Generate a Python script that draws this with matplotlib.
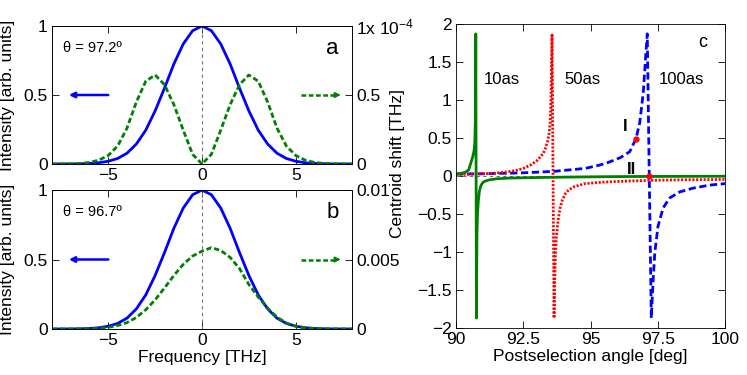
import numpy as np
import matplotlib
matplotlib.use("Agg")
import matplotlib.pyplot as plt

plt.rcParams['font.family'] = ['Liberation Sans', 'DejaVu Sans']
plt.rcParams['mathtext.fontset'] = 'custom'
plt.rcParams['mathtext.rm'] = 'Liberation Sans'
plt.rcParams['mathtext.it'] = 'Liberation Sans:italic'

# ---- panels a, b: spectra ----
freq = [-8, -7.5, -7, -6.5, -6, -5.5, -5, -4.5, -4, -3.5, -3, -2.5, -2, -1.5, -1, -0.5,
        0, 0.5, 1, 1.5, 2, 2.5, 3, 3.5, 4, 4.5, 5, 5.5, 6, 6.5, 7, 7.5, 8]

# blue: input intensity (left axis), same in a and b
intensity = [0.0, 0.0002, 0.0005, 0.0015, 0.004, 0.009, 0.02, 0.04, 0.078, 0.145, 0.245, 0.385,
             0.55, 0.725, 0.87, 0.966, 1.0, 0.966, 0.87, 0.725, 0.55, 0.385, 0.245, 0.145,
             0.078, 0.04, 0.02, 0.009, 0.004, 0.0015, 0.0005, 0.0002, 0.0]

# green: postselected intensity, panel a in units of 1e-4
post_a = [0, 0.0005, 0.0015, 0.004, 0.011, 0.028, 0.062, 0.13, 0.26, 0.45, 0.6, 0.645,
          0.575, 0.43, 0.245, 0.07, 0.0, 0.07, 0.245, 0.43, 0.575, 0.645, 0.6, 0.45,
          0.26, 0.13, 0.062, 0.028, 0.011, 0.004, 0.0015, 0.0005, 0]

# green: panel b in units of 1e-2
post_b = [0.0, 0.0001, 0.0003, 0.0008, 0.002, 0.005, 0.012, 0.025, 0.046, 0.083, 0.138, 0.21,
          0.295, 0.385, 0.465, 0.525, 0.56, 0.585, 0.565, 0.515, 0.435, 0.32, 0.23, 0.15,
          0.085, 0.043, 0.02, 0.009, 0.004, 0.0015, 0.0005, 0.0002, 0.0]

theta_a = u"\u03b8 = 97.2\u00ba"
theta_b = u"\u03b8 = 96.7\u00ba"

# ---- panel c: centroid shift vs postselection angle ----
ang_10 = [90.0, 90.2, 90.35, 90.47, 90.55, 90.62, 90.67, 90.7, 90.72, 90.73, 90.735,
          90.76, 90.77, 90.78, 90.8, 90.83, 90.87, 90.92, 91.0, 91.1, 91.25, 91.5, 92.0,
          93.0, 94.0, 95.0, 96.0, 97.0, 98.0, 99.0, 100.0]
shift_10 = [0.025, 0.035, 0.05, 0.08, 0.17, 0.25, 0.33, 0.45, 0.75, 1.3, 1.87,
            -1.87, -1.2, -0.75, -0.5, -0.33, -0.2, -0.13, -0.085, -0.065, -0.05, -0.037, -0.027,
            -0.02, -0.015, -0.011, -0.008, -0.006, -0.005, -0.004, -0.003]

ang_50 = [90.0, 90.5, 91.0, 91.5, 91.8, 92.2, 92.5, 92.8, 93.0, 93.13, 93.25, 93.32, 93.4,
          93.46, 93.5, 93.53, 93.55, 93.57, 93.645, 93.66, 93.69, 93.73, 93.8, 93.87, 93.95,
          94.07, 94.2, 94.4, 94.8, 95.5, 96.5, 97.5, 98.5, 100.0]
shift_50 = [0.02, 0.022, 0.028, 0.038, 0.05, 0.07, 0.1, 0.15, 0.2, 0.25, 0.3, 0.36, 0.45,
            0.56, 0.7, 1.0, 1.4, 1.87, -1.87, -1.5, -1.1, -0.8, -0.57, -0.42, -0.32,
            -0.23, -0.18, -0.14, -0.1, -0.08, -0.065, -0.055, -0.05, -0.045]

ang_100 = [90.0, 91.0, 92.0, 92.5, 93.0, 93.6, 94.2, 94.8, 95.3, 95.6, 96.1, 96.46, 96.69,
           96.83, 96.96, 97.06, 97.11, 97.26, 97.33, 97.39, 97.51, 97.7, 97.94, 98.31, 98.81,
           99.43, 100.0]
shift_100 = [0.026, 0.03, 0.037, 0.042, 0.05, 0.06, 0.08, 0.1, 0.14, 0.17, 0.24, 0.32, 0.49,
             0.7, 1.09, 1.62, 1.87, -1.87, -1.36, -1.01, -0.66, -0.42, -0.29, -0.21, -0.16,
             -0.12, -0.1]

mark_ang = [96.69, 97.17]
mark_shift = [0.49, 0.0]

blue = (0, 0, 1)
green = (0, 0.5, 0)
red = (1, 0, 0)
short_dash = (0, (1.9, 1.0))

fig = plt.figure(figsize=(7.47, 3.75), dpi=100)


def tidy(ax):
    for s in ax.spines.values():
        s.set_linewidth(0.6)
    ax.tick_params(direction='in', length=5, width=0.6, labelsize=12.5, pad=3)


def spectrum_panel(rect, post, scale, rticks, rlabels, theta_txt, letter):
    ax = fig.add_axes(rect)
    ax.axvline(0, color='0.45', lw=0.8, ls=(0, (3, 3)))
    ax.plot(freq, intensity, color=blue, lw=2)
    ax.set_xlim(-8, 8)
    ax.set_ylim(0, 1)
    ax.set_xticks([-5, 0, 5])
    ax.set_yticks([0, 0.5, 1])
    ax.set_yticklabels(['0', '0.5', '1'])
    ax.set_ylabel('Intensity [arb. units]', fontsize=12.5)
    ax.yaxis.set_label_coords(-0.125, 0.5)
    tidy(ax)
    ax.tick_params(top=True)

    ax2 = ax.twinx()
    ax2.plot(freq, np.array(post) * scale, color=green, lw=2, ls=short_dash)
    ax2.set_ylim(0, scale)
    ax2.set_yticks(rticks)
    ax2.set_yticklabels(rlabels)
    tidy(ax2)

    ax.text(-7.4, 0.84, theta_txt, fontsize=10.5, va='center')
    ax.text(6.95, 0.84, letter, fontsize=16, va='center', ha='center')
    # arrows pointing to the axis each curve belongs to
    ax.annotate('', xy=(-7.1, 0.5), xytext=(-5.0, 0.5),
                arrowprops=dict(arrowstyle='-|>', color=blue, lw=1.8, mutation_scale=8,
                                shrinkA=0, shrinkB=0))
    ax.plot([5.3, 7.1], [0.5, 0.5], color=green, lw=1.8, ls=short_dash)
    ax.annotate('', xy=(7.4, 0.5), xytext=(7.05, 0.5),
                arrowprops=dict(arrowstyle='-|>', color=green, lw=1.2, mutation_scale=8,
                                shrinkA=0, shrinkB=0))
    return ax


ax_a = spectrum_panel([52 / 747, 1 - 164 / 375, 300 / 747, 138 / 375], post_a, 1e-4,
                      [0, 0.5e-4, 1e-4], ['0', '0.5', '1x 10$^{-4}$'], theta_a, 'a')
ax_b = spectrum_panel([52 / 747, 1 - 329 / 375, 300 / 747, 139 / 375], post_b, 1e-2,
                      [0, 0.005, 0.01], ['0', '0.005', '0.01'], theta_b, 'b')
ax_b.set_xlabel('Frequency [THz]', fontsize=12.5, labelpad=1)

# ---- panel c ----
axc = fig.add_axes([456 / 747, 1 - 328 / 375, 269 / 747, 304 / 375])
axc.axhline(0, color='0.45', lw=0.8, ls=(0, (3, 3)))
axc.plot(ang_100, shift_100, color=blue, lw=2, ls=(0, (2.6, 1.3)))
axc.plot(ang_50, shift_50, color=red, lw=2, ls=(0, (0.75, 0.6)))
axc.plot(ang_10, shift_10, color=green, lw=2)
axc.plot(mark_ang, mark_shift, 'o', color=red, ms=3.5, zorder=5)
axc.set_xlim(90, 100)
axc.set_ylim(-2, 2)
axc.set_xticks([90, 92.5, 95, 97.5, 100])
axc.set_xticklabels(['90', '92.5', '95', '97.5', '100'])
yt = [-2, -1.5, -1, -0.5, 0, 0.5, 1, 1.5, 2]
axc.set_yticks(yt)
axc.set_yticklabels(['%g' % v if v >= 0 else u'\u2212%g' % -v for v in yt])
tidy(axc)
axc.tick_params(top=True, right=True)
axc.set_xlabel('Postselection angle [deg]', fontsize=12.5, labelpad=1)
axc.set_ylabel('Centroid shift [THz]', fontsize=12.5)
axc.yaxis.set_label_coords(-0.19, 0.54)

axc.text(91.05, 1.27, '10as', fontsize=12, va='center')
axc.text(94.02, 1.27, '50as', fontsize=12, va='center')
axc.text(97.54, 1.27, '100as', fontsize=12, va='center')
axc.text(99.18, 1.76, 'c', fontsize=13, va='center', ha='center')
axc.text(96.3, 0.65, 'I', fontsize=12, fontweight='bold', va='center', ha='center')
axc.text(96.53, 0.08, 'II', fontsize=12, fontweight='bold', va='center', ha='center')

fig.savefig('out.png', dpi=100)
